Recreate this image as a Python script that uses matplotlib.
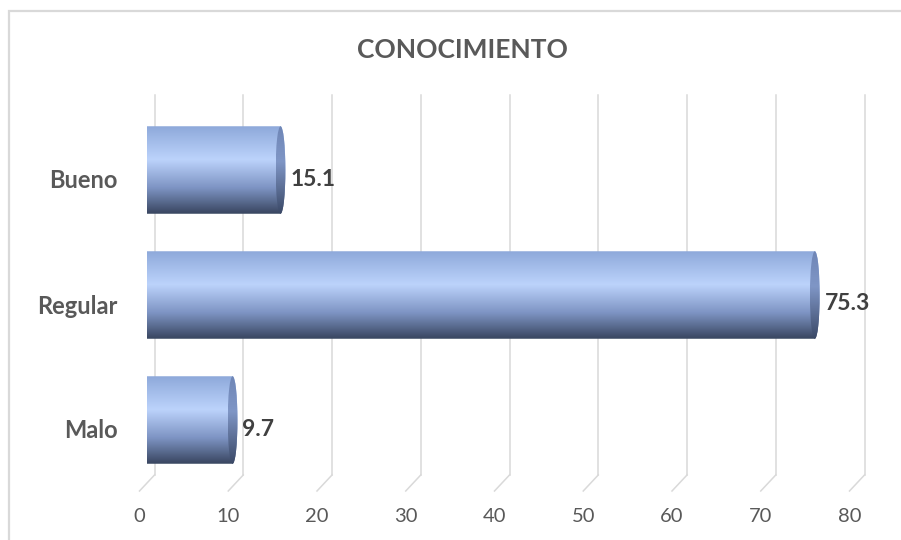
import numpy as np
import matplotlib
matplotlib.use("Agg")
import matplotlib.pyplot as plt
from matplotlib.colors import LinearSegmentedColormap
from matplotlib.patches import PathPatch, Ellipse, Rectangle
from matplotlib.path import Path
from matplotlib.transforms import ScaledTranslation, IdentityTransform
from matplotlib.lines import Line2D

# data -----------------------------------------------------------------------
categories = ["Malo", "Regular", "Bueno"]
values = [9.7, 75.3, 15.1]
xticks = [0, 10, 20, 30, 40, 50, 60, 70, 80]
title = "CONOCIMIENTO"

# style ----------------------------------------------------------------------
DPI = 100
plt.rcParams['font.family'] = ['Lato', 'DejaVu Sans']
grid_col = "#d9d9d9"
body_cmap = LinearSegmentedColormap.from_list(
    "body", [(0.0, "#8ea9da"), (0.38, "#bcd3fb"), (0.7, "#7e94c4"), (1.0, "#38455f")])
cap_cmap = LinearSegmentedColormap.from_list(
    "cap", [(0.0, "#6f86b6"), (0.4, "#7f96c6"), (1.0, "#3a4866")])

fig = plt.figure(figsize=(9.01, 5.40), dpi=DPI)
ax = fig.add_axes([146.5/901, 65/540, 710/901, 380/540])
ax.set_xlim(0, 80)
ax.set_ylim(-0.44, 2.6)
for s in ax.spines.values():
    s.set_visible(False)

def px(dx, dy):
    return ScaledTranslation(dx/DPI, dy/DPI, fig.dpi_scale_trans)

# back wall gridlines + floor lines
xt = ax.get_xaxis_transform()
for v in xticks:
    ax.plot([v, v], [0, 1], color=grid_col, lw=1.1, transform=xt + px(8, 0),
            zorder=0, clip_on=False)
    p0 = (xt + px(8, 0)).transform((v, 0))
    p1 = (xt + px(-7, -16)).transform((v, 0))
    fig.add_artist(Line2D([p0[0], p1[0]], [p0[1], p1[1]], color=grid_col,
                          lw=1.1, transform=IdentityTransform()))

# cylinders
h = 0.70
cw = 0.55  # half width of end ellipse, data units
grad = np.linspace(0, 1, 256)[:, None]
t_left = np.linspace(np.pi/2, 3*np.pi/2, 40)
t_right = np.linspace(-np.pi/2, np.pi/2, 40)
for i, v in enumerate(values):
    y0, y1 = i - h/2, i + h/2
    left = np.c_[cw*0.5*np.cos(t_left), h/2*np.sin(t_left) + i]
    right = np.c_[v + cw*np.cos(t_right), h/2*np.sin(t_right) + i]
    verts = np.r_[left, right, left[:1]]
    clip = PathPatch(Path(verts), transform=ax.transData, facecolor="none",
                     edgecolor="none")
    ax.add_patch(clip)
    im = ax.imshow(grad, cmap=body_cmap, aspect="auto", extent=(-1, v + 1, y0, y1),
                   zorder=2, interpolation="bilinear")
    im.set_clip_path(clip)
    im.set_clip_box(None)
    cap = Ellipse((v, i), 2*cw, h, transform=ax.transData, facecolor="none",
                  edgecolor="none")
    ax.add_patch(cap)
    im2 = ax.imshow(grad, cmap=cap_cmap, aspect="auto",
                    extent=(v - cw, v + cw, y0, y1), zorder=3,
                    interpolation="bilinear")
    im2.set_clip_path(cap)
    ax.annotate(f"{v:.1f}", (v + cw, i), xytext=(5, -9), textcoords="offset pixels",
                ha="left", va="center", fontsize=16.5, fontweight="bold",
                color="#404040", zorder=4)

ax.set_xlim(0, 80)
ax.set_ylim(-0.44, 2.6)

# axes labels
ax.set_xticks(xticks)
ax.set_xticklabels([str(v) for v in xticks], fontsize=14.5, color="#595959")
ax.tick_params(axis="x", length=0, pad=24)
ax.set_yticks(range(len(categories)))
ax.set_yticklabels(categories, fontsize=17, fontweight="bold", color="#595959")
ax.tick_params(axis="y", length=0, pad=21)
for lab in ax.get_xticklabels():
    lab.set_transform(lab.get_transform() + px(-7, 0))
for lab in ax.get_yticklabels():
    lab.set_transform(lab.get_transform() + px(0, -9))

fig.text(462/901, 1 - 50/540, title, ha="center", va="center", fontsize=19,
         fontweight="bold", color="#595959")

# chart border
fig.add_artist(Rectangle((9/901, -0.1), 1.2, 1 - 11/540 + 0.1,
                         transform=fig.transFigure, facecolor="none",
                         edgecolor=grid_col, lw=1.6))

fig.savefig("out.png", dpi=DPI)
